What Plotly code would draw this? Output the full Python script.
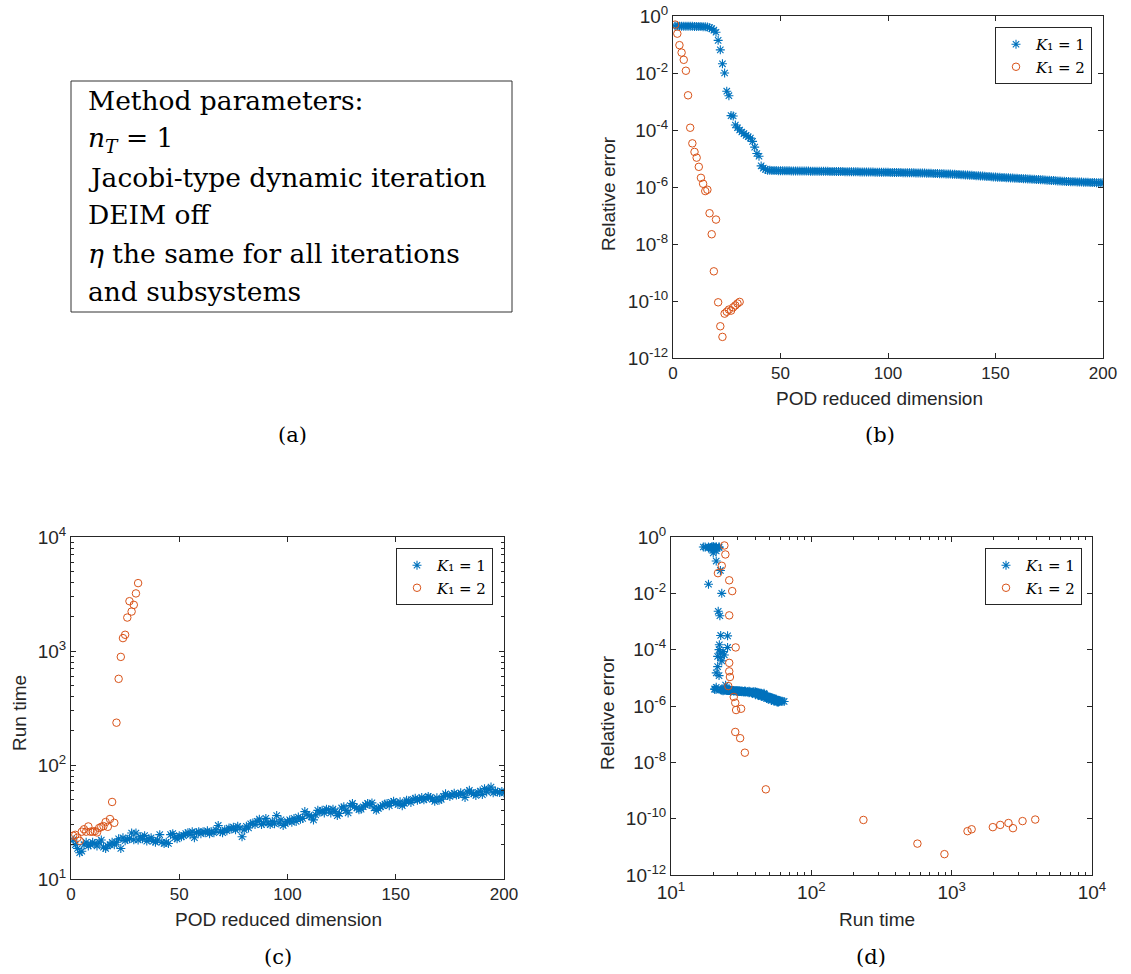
import plotly.graph_objects as go

# ---------------- data ----------------
dim1 = list(range(1, 201))
err1 = [0.45, 0.45, 0.44, 0.44, 0.44, 0.44, 0.44, 0.44, 0.44, 0.43,
        0.43, 0.43, 0.43, 0.42, 0.42, 0.41, 0.39, 0.36, 0.32, 0.27,
        0.14, 0.065, 0.021, 0.010, 2.3e-3, 1.6e-3, 3.2e-4, 3.1e-4, 1.5e-4, 1.2e-4,
        1.0e-4, 8.5e-5, 7.5e-5, 6.5e-5, 5.8e-5, 5.2e-5, 4.0e-5, 2.5e-5, 1.5e-5, 1.2e-5,
        5.5e-6, 4.6e-6, 4.1e-6, 3.9e-6, 3.85e-6, 3.8e-6, 3.78e-6, 3.76e-6, 3.74e-6, 3.72e-6,
        3.70e-6, 3.69e-6, 3.68e-6, 3.68e-6, 3.67e-6, 3.66e-6, 3.65e-6, 3.65e-6, 3.64e-6, 3.63e-6,
        3.62e-6, 3.62e-6, 3.61e-6, 3.60e-6, 3.59e-6, 3.58e-6, 3.58e-6, 3.57e-6, 3.56e-6, 3.55e-6,
        3.55e-6, 3.54e-6, 3.53e-6, 3.52e-6, 3.51e-6, 3.50e-6, 3.49e-6, 3.48e-6, 3.47e-6, 3.46e-6,
        3.45e-6, 3.44e-6, 3.43e-6, 3.42e-6, 3.41e-6, 3.40e-6, 3.39e-6, 3.38e-6, 3.37e-6, 3.36e-6,
        3.35e-6, 3.34e-6, 3.33e-6, 3.32e-6, 3.31e-6, 3.30e-6, 3.29e-6, 3.28e-6, 3.27e-6, 3.26e-6,
        3.25e-6, 3.24e-6, 3.23e-6, 3.22e-6, 3.21e-6, 3.20e-6, 3.19e-6, 3.18e-6, 3.17e-6, 3.16e-6,
        3.15e-6, 3.14e-6, 3.13e-6, 3.12e-6, 3.11e-6, 3.10e-6, 3.08e-6, 3.06e-6, 3.04e-6, 3.02e-6,
        3.00e-6, 2.98e-6, 2.96e-6, 2.94e-6, 2.92e-6, 2.90e-6, 2.88e-6, 2.86e-6, 2.84e-6, 2.82e-6,
        2.80e-6, 2.77e-6, 2.74e-6, 2.71e-6, 2.68e-6, 2.65e-6, 2.62e-6, 2.59e-6, 2.56e-6, 2.53e-6,
        2.50e-6, 2.47e-6, 2.44e-6, 2.41e-6, 2.38e-6, 2.35e-6, 2.32e-6, 2.29e-6, 2.26e-6, 2.23e-6,
        2.20e-6, 2.18e-6, 2.16e-6, 2.14e-6, 2.12e-6, 2.10e-6, 2.08e-6, 2.06e-6, 2.04e-6, 2.02e-6,
        2.00e-6, 1.98e-6, 1.96e-6, 1.94e-6, 1.92e-6, 1.90e-6, 1.88e-6, 1.86e-6, 1.84e-6, 1.82e-6,
        1.80e-6, 1.78e-6, 1.76e-6, 1.74e-6, 1.72e-6, 1.70e-6, 1.68e-6, 1.66e-6, 1.64e-6, 1.62e-6,
        1.60e-6, 1.58e-6, 1.56e-6, 1.55e-6, 1.54e-6, 1.53e-6, 1.52e-6, 1.51e-6, 1.50e-6, 1.49e-6,
        1.48e-6, 1.47e-6, 1.46e-6, 1.45e-6, 1.44e-6, 1.43e-6, 1.42e-6, 1.41e-6, 1.40e-6, 1.40e-6]
rt1 = [22, 20, 18.5, 17, 17.5, 20, 21, 19.5, 20, 21,
       20.5, 19.5, 21, 22, 19, 18.5, 19.5, 20, 21, 20,
       21, 22.5, 18.5, 23, 21.7, 22.3, 22.6, 25.3, 22.1, 25.3,
       22, 23.5, 22.5, 24, 21.5, 22.5, 23, 21.5, 21, 22,
       24.5, 21, 20.5, 21, 20.5, 24.5, 25, 23, 22.5, 24,
       23.5, 24, 25, 25.5, 24.5, 26, 23, 25.5, 26, 25,
       26, 25.5, 26.5, 25, 26, 25.5, 27, 29.5, 26, 25.5,
       27, 26.5, 28, 27.5, 28.5, 27, 29, 28, 23.5, 27,
       29, 28, 30.5, 31, 30, 32, 33.5, 30, 31, 34,
       31, 30, 32, 30.5, 36, 31, 33, 29.5, 30.5, 32,
       33, 31.5, 34, 32, 35, 33.5, 34, 39, 37, 36,
       35, 33, 36.5, 40, 38.5, 40, 38, 41, 40.5, 38,
       41, 39, 36, 37.5, 42, 43, 40, 38, 44, 46,
       43, 42, 40.5, 41, 43, 44.5, 46, 45, 46.5, 42,
       40, 41.5, 43, 44, 45.5, 46, 44, 47, 48, 46.5,
       45, 47.5, 44, 46, 49, 48.5, 47, 50, 51, 49,
       50, 52, 49.5, 51, 53, 52, 50, 48, 51.5, 49,
       50, 53, 56, 54, 53, 55, 56.5, 54.5, 55, 57,
       55.5, 52, 58, 60, 57, 56, 54, 57.5, 59, 55,
       62, 58, 61, 64, 57, 59, 58, 57.5, 58.5, 57]

dim2 = list(range(1, 32))
err2 = [0.5, 0.24, 0.095, 0.052, 0.029, 0.012, 1.65e-3, 1.2e-4, 3.4e-5, 1.7e-5,
        1.07e-5, 5.1e-6, 2.1e-6, 1.3e-6, 7.2e-7, 8.0e-7, 1.2e-7, 2.2e-8, 1.1e-9, 7.2e-8,
        9.0e-11, 1.3e-11, 5.5e-12, 3.6e-11, 4.2e-11, 5.0e-11, 4.6e-11, 6.0e-11, 7.0e-11, 8.2e-11,
        9.3e-11]
rt2 = [24, 24.4, 23, 21.6, 26, 27.3, 26, 28.9, 26, 26,
       26.3, 25.6, 28, 28.7, 29.1, 31.6, 28.7, 33.6, 47.4, 31.1,
       235, 570, 888, 1297, 1388, 1965, 2735, 2218, 2540, 3200,
       3940]

names = ["<i>K</i>₁ = 1", "<i>K</i>₁ = 2"]
box_lines = ["Method parameters:",
             "<i>n</i><sub><i>T</i></sub> = 1",
             "Jacobi-type dynamic iteration",
             "DEIM off",
             "<i>η</i> the same for all iterations",
             "and subsystems"]

# ---------------- style ----------------
W, H = 1131, 974
BLUE, ORANGE = "#0072BD", "#D95319"
AX = "#262626"
SANS = "Liberation Sans, Arial, sans-serif"
SERIF = "DejaVu Serif, serif"


def px(x):
    return x / W


def py(y):
    return 1 - y / H


def axis(x0, x1, anchor, size=17, **kw):
    d = dict(domain=[x0, x1], anchor=anchor, showline=True, linecolor=AX, linewidth=1,
             mirror="ticks", ticks="inside", ticklen=5, tickcolor=AX, tickwidth=1,
             showgrid=False, zeroline=False, automargin=False,
             tickfont=dict(family=SANS, size=size, color=AX))
    d.update(kw)
    return d


err_vals = [10.0 ** e for e in range(-12, 1, 2)]
err_text = ["10<sup>%d</sup>" % e for e in range(-12, 1, 2)]
dec_vals = [10.0 ** e for e in range(1, 5)]
dec_text = ["10<sup>%d</sup>" % e for e in range(1, 5)]
minor_vals = [m * 10.0 ** e for e in range(1, 4) for m in range(2, 10)]
lin_vals = [0, 50, 100, 150, 200]

fig = go.Figure()

ast = dict(symbol="asterisk-open", size=7.5, color=BLUE, line=dict(color=BLUE, width=1.1))
circ = dict(symbol="circle-open", size=7.5, color=ORANGE, line=dict(color=ORANGE, width=1))

# (b)
fig.add_trace(go.Scatter(x=dim1, y=err1, mode="markers", marker=ast, name=names[0],
                         xaxis="x", yaxis="y", legend="legend"))
fig.add_trace(go.Scatter(x=dim2, y=err2, mode="markers", marker=circ, name=names[1],
                         xaxis="x", yaxis="y", legend="legend"))
# (c)
fig.add_trace(go.Scatter(x=dim1, y=rt1, mode="markers", marker=ast, name=names[0],
                         xaxis="x2", yaxis="y2", legend="legend2"))
fig.add_trace(go.Scatter(x=dim2, y=rt2, mode="markers", marker=circ, name=names[1],
                         xaxis="x2", yaxis="y2", legend="legend2"))
# (d)
fig.add_trace(go.Scatter(x=rt1, y=err1, mode="markers", marker=ast, name=names[0],
                         xaxis="x3", yaxis="y3", legend="legend3"))
fig.add_trace(go.Scatter(x=rt2, y=err2, mode="markers", marker=circ, name=names[1],
                         xaxis="x3", yaxis="y3", legend="legend3"))

leg = dict(bgcolor="white", bordercolor=AX, borderwidth=1,
           font=dict(family=SERIF, size=15, color="black"),
           xanchor="right", yanchor="top", tracegroupgap=0, itemwidth=30)

fig.update_layout(
    width=W, height=H, margin=dict(l=0, r=0, t=0, b=0, autoexpand=False),
    paper_bgcolor="white", plot_bgcolor="white",
    xaxis=axis(px(673), px(1103), "y", range=[0, 200], tickmode="array", tickvals=lin_vals),
    yaxis=axis(py(358), py(16), "x", size=19, type="log", range=[-12, 0], tickmode="array",
               tickvals=err_vals, ticktext=err_text),
    xaxis2=axis(px(71), px(504), "y2", range=[0, 200], tickmode="array", tickvals=lin_vals),
    yaxis2=axis(py(879), py(537), "x2", size=19, type="log", range=[1, 4], tickmode="array",
                tickvals=dec_vals, ticktext=dec_text,
                minor=dict(ticks="inside", ticklen=3, tickcolor=AX, tickmode="array",
                           tickvals=minor_vals)),
    xaxis3=axis(px(671), px(1092), "y3", size=19, type="log", range=[1, 4], tickmode="array",
                tickvals=dec_vals, ticktext=dec_text,
                minor=dict(ticks="inside", ticklen=3, tickcolor=AX, tickmode="array",
                           tickvals=minor_vals)),
    yaxis3=axis(py(875), py(537), "x3", size=19, type="log", range=[-12, 0], tickmode="array",
                tickvals=err_vals, ticktext=err_text),
    legend=dict(leg, x=px(1092), y=py(27)),
    legend2=dict(leg, x=px(493), y=py(548)),
    legend3=dict(leg, x=px(1082), y=py(548)),
)

ann = []
# axis titles
title_font = dict(family=SANS, size=19, color=AX)
for x, y, t, ang in [(879, 398, "POD reduced dimension", 0), (608, 194, "Relative error", -90),
                     (278, 919, "POD reduced dimension", 0), (19, 713, "Run time", -90),
                     (877, 919, "Run time", 0), (607, 713, "Relative error", -90)]:
    ann.append(dict(x=px(x), y=py(y), xref="paper", yref="paper", text=t, showarrow=False,
                    textangle=ang, font=title_font, xanchor="center", yanchor="middle"))
# captions
for x, y, t in [(292, 435, "(a)"), (880, 435, "(b)"), (278, 957, "(c)"), (871, 957, "(d)")]:
    ann.append(dict(x=px(x), y=py(y), xref="paper", yref="paper", text=t, showarrow=False,
                    font=dict(family=SERIF, size=21, color="black"),
                    xanchor="center", yanchor="middle"))
# parameter box text
for t, y in zip(box_lines, [101, 139, 177, 215, 253, 291]):
    ann.append(dict(x=px(86), y=py(y), xref="paper", yref="paper", text=t, showarrow=False,
                    font=dict(family=SERIF, size=26.5, color="black"),
                    xanchor="left", yanchor="middle"))
fig.update_layout(annotations=ann)
fig.add_shape(type="rect", xref="paper", yref="paper", x0=px(71), x1=px(512), y0=py(312), y1=py(81),
              line=dict(color="#333333", width=1), fillcolor="rgba(0,0,0,0)")

fig.write_html("out.html")
